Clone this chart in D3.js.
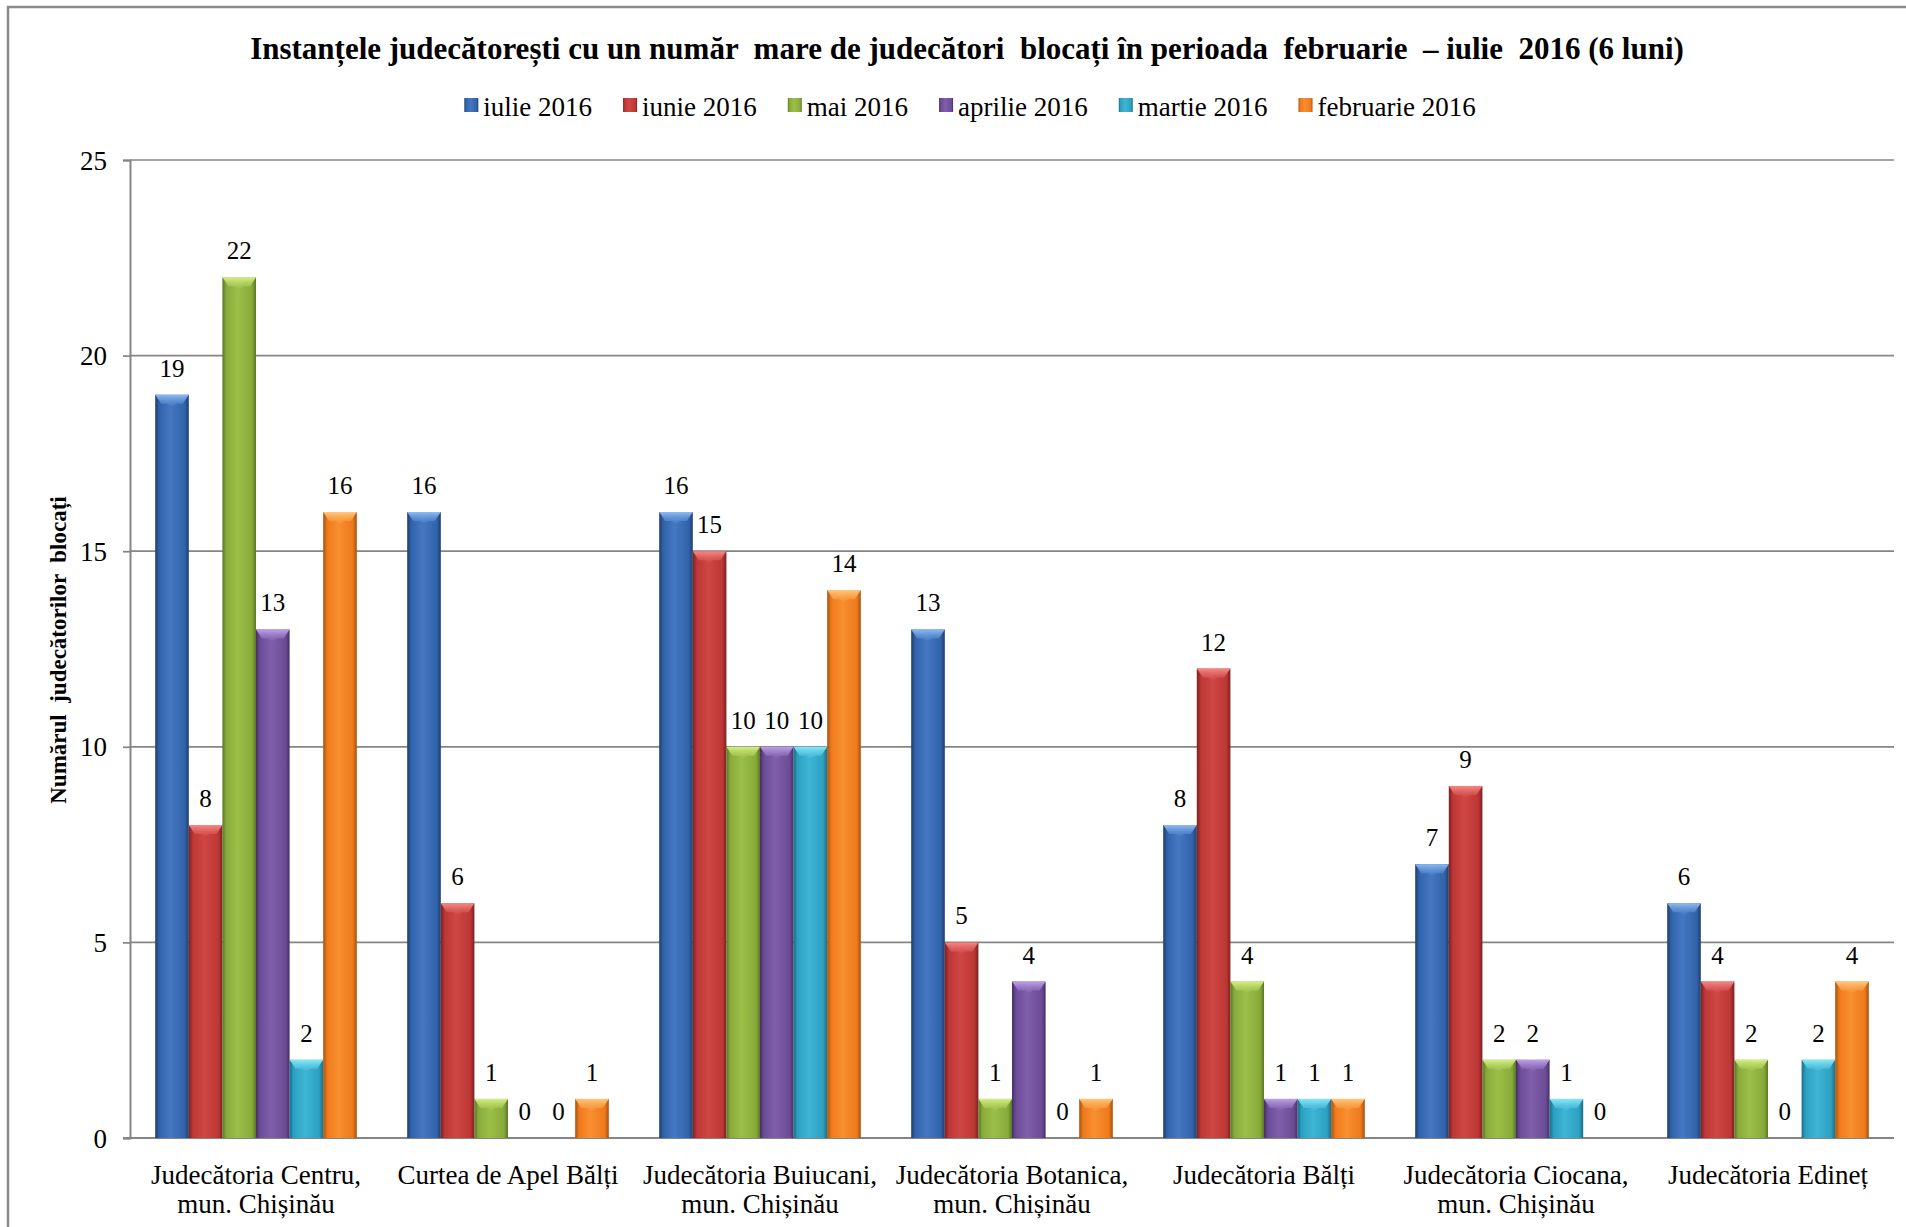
<!DOCTYPE html>
<html>
<head>
<meta charset="utf-8">
<script src="https://cdn.jsdelivr.net/npm/d3@7"></script>
<style>
  html, body { margin: 0; padding: 0; background: #fff; }
  svg { display: block; }
</style>
</head>
<body>
<svg id="chart" width="1906" height="1227"></svg>
<script>
// ---- data ----
const titleText = "Instanțele judecătorești cu un număr  mare de judecători  blocați în perioada  februarie  – iulie  2016 (6 luni)";
const yAxisTitle = "Numărul  judecătorilor  blocați";
const categories = [
  "Judecătoria Centru,|mun. Chișinău",
  "Curtea de Apel Bălți",
  "Judecătoria Buiucani,|mun. Chișinău",
  "Judecătoria Botanica,|mun. Chișinău",
  "Judecătoria Bălți",
  "Judecătoria Ciocana,|mun. Chișinău",
  "Judecătoria Edineț"
];
const seriesNames = ["iulie 2016", "iunie 2016", "mai 2016", "aprilie 2016", "martie 2016", "februarie 2016"];
const iulie2016     = [19, 16, 16, 13, 8, 7, 6];
const iunie2016     = [8, 6, 15, 5, 12, 9, 4];
const mai2016       = [22, 1, 10, 1, 4, 2, 2];
const aprilie2016   = [13, 0, 10, 4, 1, 2, 0];
const martie2016    = [2, 0, 10, 0, 1, 1, 2];
const februarie2016 = [16, 1, 14, 1, 1, 0, 4];
const yTicks = [0, 5, 10, 15, 20, 25];

const seriesValues = [iulie2016, iunie2016, mai2016, aprilie2016, martie2016, februarie2016];
const palette = [
  {main: "#3163aa", dark: "#1f3c6c", light: "#4478c2", top: "#8dbcf2"},
  {main: "#bc3735", dark: "#7a2120", light: "#cf4744", top: "#f58a88"},
  {main: "#88aa3b", dark: "#5a7724", light: "#9bbf48", top: "#d6ee86"},
  {main: "#6c4c96", dark: "#462e68", light: "#7f5fab", top: "#bfa2ea"},
  {main: "#2ca0c0", dark: "#1a6d85", light: "#3fb5d5", top: "#8ae8fa"},
  {main: "#ee7a1c", dark: "#a6520e", light: "#f88f30", top: "#ffc880"}
];
const FONT = "Liberation Serif";

// ---- layout ----
const W = 1906, H = 1227;
const plot = {left: 130, right: 1894, top: 160, bottom: 1138};
const svg = d3.select("#chart");
const defs = svg.append("defs");

palette.forEach((c, i) => {
  const g = defs.append("linearGradient").attr("id", "bar" + i)
    .attr("x1", "0").attr("x2", "1").attr("y1", "0").attr("y2", "0");
  g.append("stop").attr("offset", "0%").attr("stop-color", c.dark);
  g.append("stop").attr("offset", "12%").attr("stop-color", c.main);
  g.append("stop").attr("offset", "45%").attr("stop-color", c.light);
  g.append("stop").attr("offset", "88%").attr("stop-color", c.main);
  g.append("stop").attr("offset", "100%").attr("stop-color", c.dark);
  const t = defs.append("linearGradient").attr("id", "top" + i)
    .attr("x1", "0").attr("x2", "0").attr("y1", "0").attr("y2", "1");
  t.append("stop").attr("offset", "0%").attr("stop-color", c.top).attr("stop-opacity", 1);
  t.append("stop").attr("offset", "100%").attr("stop-color", c.light).attr("stop-opacity", 0.6);
});

// chart border (left and top visible)
svg.append("path")
  .attr("d", `M8,${H} L8,7 L${W},7`)
  .attr("fill", "none").attr("stroke", "#8a8a8a").attr("stroke-width", 2.5);

const x0 = d3.scaleBand().domain(categories).range([plot.left, plot.right]).padding(0);
const x1 = d3.scaleBand().domain(seriesNames)
  .range([x0.bandwidth() * 0.1, x0.bandwidth() * 0.9]).padding(0);
const y = d3.scaleLinear().domain([0, 25]).range([plot.bottom, plot.top]);

// gridlines
svg.append("g").selectAll("line").data(yTicks.filter(d => d > 0)).join("line")
  .attr("x1", plot.left).attr("x2", plot.right)
  .attr("y1", d => y(d)).attr("y2", d => y(d))
  .attr("stroke", "#858585").attr("stroke-width", 1.7);

// y axis
const yAxis = d3.axisLeft(y).tickValues(yTicks).tickSize(7).tickPadding(16).tickFormat(d3.format("d"));
const ya = svg.append("g").attr("transform", `translate(${plot.left},0)`).call(yAxis);
ya.attr("font-family", null);
ya.select(".domain").attr("stroke", "#858585").attr("stroke-width", 2);
ya.selectAll(".tick line").attr("stroke", "#858585").attr("stroke-width", 1.7);
ya.selectAll(".tick text").style("font-family", FONT).style("font-size", "27px").attr("fill", "#000").attr("dy", "0.34em");

// baseline (x axis)
svg.append("line").attr("x1", plot.left - 7).attr("x2", plot.right)
  .attr("y1", y(0)).attr("y2", y(0)).attr("stroke", "#858585").attr("stroke-width", 2);

// bars
const bars = [];
categories.forEach((c, ci) => {
  seriesNames.forEach((s, si) => {
    bars.push({cat: c, ser: s, si: si, v: seriesValues[si][ci]});
  });
});
const bw = x1.bandwidth();
const barG = svg.append("g");
const bg = barG.selectAll("g").data(bars).join("g");
bg.filter(d => d.v > 0).append("rect")
  .attr("x", d => x0(d.cat) + x1(d.ser))
  .attr("y", d => y(d.v))
  .attr("width", bw)
  .attr("height", d => y(0) - y(d.v))
  .attr("fill", d => `url(#bar${d.si})`);
bg.filter(d => d.v > 0).append("path")
  .attr("d", d => {
    const xl = x0(d.cat) + x1(d.ser), yt = y(d.v);
    const bh = Math.min(9, (y(0) - y(d.v)) / 2);
    return `M${xl},${yt} L${xl + bw},${yt} L${xl + bw - 6},${yt + bh} L${xl + bw / 2 + 4},${yt + bh} L${xl + bw / 2},${yt + bh + 3} L${xl + bw / 2 - 4},${yt + bh} L${xl + 6},${yt + bh} Z`;
  })
  .attr("fill", d => `url(#top${d.si})`);

// value labels
svg.append("g").selectAll("text").data(bars).join("text")
  .attr("x", d => x0(d.cat) + x1(d.ser) + bw / 2)
  .attr("y", d => y(d.v) - 18)
  .attr("text-anchor", "middle")
  .style("font-family", FONT).style("font-size", "25px")
  .text(d => d.v);

// category labels
const catG = svg.append("g");
categories.forEach(c => {
  const lines = c.split("|");
  const t = catG.append("text")
    .attr("x", x0(c) + x0.bandwidth() / 2)
    .attr("y", 1184)
    .attr("text-anchor", "middle")
    .style("font-family", FONT).style("font-size", "27px");
  lines.forEach((ln, i) => {
    t.append("tspan").attr("x", x0(c) + x0.bandwidth() / 2)
      .attr("dy", i === 0 ? 0 : 29).text(ln);
  });
});

// title
svg.append("text")
  .attr("x", 967).attr("y", 59)
  .attr("text-anchor", "middle")
  .style("font-family", FONT).style("font-size", "31px").style("font-weight", "bold")
  .style("white-space", "pre")
  .text(titleText);

// y axis title
svg.append("text")
  .attr("transform", "translate(66,650) rotate(-90)")
  .attr("text-anchor", "middle")
  .style("font-family", FONT).style("font-size", "23px").style("font-weight", "bold")
  .style("white-space", "pre")
  .text(yAxisTitle);

// legend
const legend = svg.append("g");
const items = legend.selectAll("g").data(seriesNames).join("g");
items.append("rect").attr("width", 14).attr("height", 14).attr("y", -9)
  .attr("fill", (d, i) => `url(#bar${i})`);
items.append("text").attr("x", 19).attr("y", 0).attr("dy", "0.35em")
  .style("font-family", FONT).style("font-size", "27px").text(d => d);
let cx = 0;
const pos = [];
items.each(function () {
  const w = 19 + d3.select(this).select("text").node().getComputedTextLength();
  pos.push(cx);
  cx += w + 31;
});
const totalW = cx - 31;
const startX = 970 - totalW / 2;
items.attr("transform", (d, i) => `translate(${startX + pos[i]},107)`);
</script>
</body>
</html>
